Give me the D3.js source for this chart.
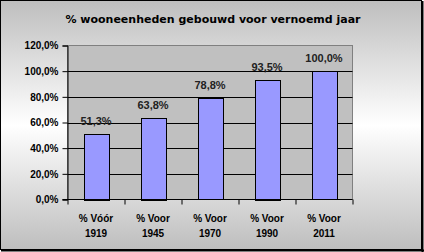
<!DOCTYPE html>
<html><head><meta charset="utf-8">
<script src="https://cdn.jsdelivr.net/npm/d3@7"></script>
<style>body{margin:0;background:#fff}svg{display:block}</style>
</head><body>
<svg id="c" width="424" height="252"></svg>
<script>
const title = "% wooneenheden gebouwd voor vernoemd jaar";
const categories = [["% Vóór","1919"],["% Voor","1945"],["% Voor","1970"],["% Voor","1990"],["% Voor","2011"]];
const values = [0.513, 0.638, 0.788, 0.935, 1.000];
const yTicks = [0, 0.2, 0.4, 0.6, 0.8, 1.0, 1.2];

const svg = d3.select("#c");
const defs = svg.append("defs");
const g = defs.append("linearGradient").attr("id","bg").attr("x1",0).attr("y1",0).attr("x2",0).attr("y2",1);
g.append("stop").attr("offset","0%").attr("stop-color","#bebebe");
g.append("stop").attr("offset","50%").attr("stop-color","#ffffff");
g.append("stop").attr("offset","100%").attr("stop-color","#bebebe");

svg.append("rect").attr("x",0.5).attr("y",0.5).attr("width",421).attr("height",249)
  .attr("fill","url(#bg)").attr("stroke","#000").attr("stroke-width",1);
svg.append("line").attr("x1",422.5).attr("x2",422.5).attr("y1",1).attr("y2",252).attr("stroke","#000").attr("stroke-width",2);
svg.append("line").attr("x1",1).attr("x2",424).attr("y1",250.5).attr("y2",250.5).attr("stroke","#000").attr("stroke-width",2);

const L = 67.5, R = 352.5, T = 45.5, B = 199.5;
const x = d3.scaleBand().domain(d3.range(categories.length)).range([L, R]).padding(0);
const y = d3.scaleLinear().domain([0, 1.2]).range([B, T]);
const fmt = v => d3.format(".1f")(v*100).replace(".", ",") + "%";

svg.append("text").attr("x",213).attr("y",23).attr("text-anchor","middle")
  .attr("font-family","DejaVu Sans").attr("font-weight","bold").attr("font-size","11px")
  .attr("fill","#000").text(title);

// plot area
svg.append("rect").attr("x",L).attr("y",T).attr("width",R-L).attr("height",B-T)
  .attr("fill","#c0c0c0").attr("stroke","#808080").attr("stroke-width",1);

// gridlines
svg.append("g").selectAll("line").data(yTicks.filter(t=>t>0 && t<1.2)).join("line")
  .attr("x1",L).attr("x2",R).attr("y1",d=>Math.round(y(d))+0.5).attr("y2",d=>Math.round(y(d))+0.5)
  .attr("stroke","#000").attr("stroke-width",1);

// bars
const bw = x.bandwidth()*0.43;
svg.append("g").selectAll("rect").data(values).join("rect")
  .attr("x",(d,i)=>Math.round(x(i)+(x.bandwidth()-bw)/2)+0.5)
  .attr("y",d=>Math.round(y(d))+0.5)
  .attr("width",Math.round(bw))
  .attr("height",d=>Math.round(B-y(d)))
  .attr("fill","#9999ff").attr("stroke","#000").attr("stroke-width",1);

// data labels
svg.append("g").selectAll("text").data(values).join("text")
  .attr("x",(d,i)=>x(i)+x.bandwidth()/2).attr("y",d=>y(d)-9)
  .attr("text-anchor","middle").attr("font-family","Liberation Sans").attr("font-weight","bold")
  .attr("font-size","11px").attr("fill","#222").text(d=>fmt(d));

// y axis
const ya = d3.axisLeft(y).tickValues(yTicks).tickSize(5).tickPadding(4).tickFormat(fmt);
const yg = svg.append("g").attr("transform",`translate(${L},0)`).call(ya);
yg.select(".domain").attr("stroke","#000");
yg.selectAll(".tick line").attr("stroke","#000");
yg.selectAll("text").attr("font-family","Liberation Sans").attr("font-weight","bold").attr("font-size","10px").attr("fill","#000");

// x axis
const xg = svg.append("g").attr("transform",`translate(0,${B})`);
xg.append("line").attr("x1",L-5).attr("x2",R).attr("y1",0).attr("y2",0).attr("stroke","#000");
xg.selectAll("line.t").data(d3.range(categories.length+1)).join("line").attr("class","t")
  .attr("x1",i=>Math.round(L+i*x.step())).attr("x2",i=>Math.round(L+i*x.step()))
  .attr("y1",0).attr("y2",5).attr("stroke","#000");
const xt = xg.selectAll("text").data(categories).join("text")
  .attr("text-anchor","middle").attr("font-family","Liberation Sans").attr("font-weight","bold")
  .attr("font-size","10px").attr("fill","#000");
xt.append("tspan").attr("x",(d,i)=>x(i)+x.bandwidth()/2).attr("y",22.5).text(d=>d[0]);
xt.append("tspan").attr("x",(d,i)=>x(i)+x.bandwidth()/2).attr("y",37.5).text(d=>d[1]);
</script>
</body></html>
